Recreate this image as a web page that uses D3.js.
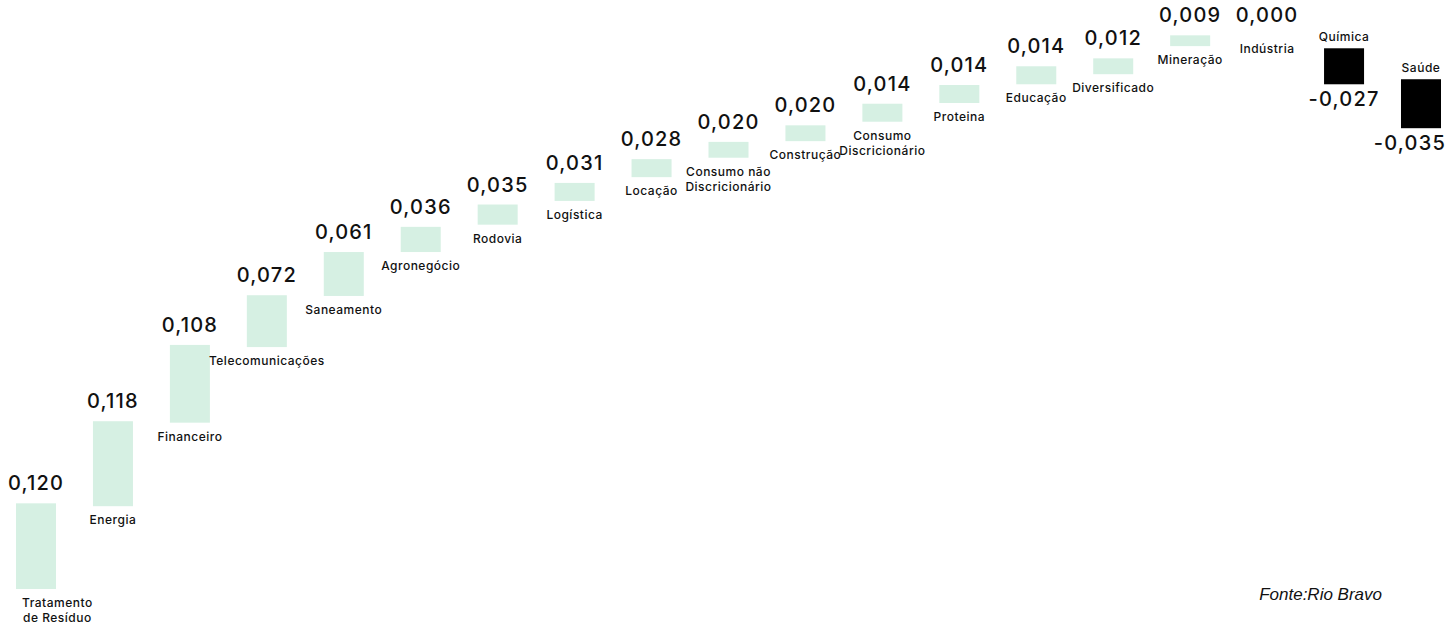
<!DOCTYPE html>
<html lang="pt-BR">
<head>
<meta charset="utf-8">
<script src="https://cdn.jsdelivr.net/npm/d3@7"></script>
<style>
  body { margin: 0; background: #fff; }
  svg { display: block; font-family: Inter, "Noto Sans", sans-serif; }
  .valor { font-size: 20px; font-weight: 500; letter-spacing: 1.2px; fill: #111; }
  .setor { font-size: 12px; font-weight: 500; letter-spacing: 0.5px; fill: #111; }
  .fonte { font-family: "Liberation Sans", Arial, sans-serif; font-style: italic; font-size: 17px; fill: #111; }
</style>
</head>
<body>
<svg id="grafico" width="1447" height="626"></svg>
<script>
/* categorias (\n = quebra de linha no rótulo) */
const categorias = ["Tratamento\nde Resíduo", "Energia", "Financeiro", "Telecomunicações", "Saneamento",
  "Agronegócio", "Rodovia", "Logística", "Locação", "Consumo não\nDiscricionário", "Construção",
  "Consumo\nDiscricionário", "Proteina", "Educação", "Diversificado", "Mineração", "Indústria",
  "Química", "Saúde"]

/* valores escritos nos rótulos */
const rotulos = [0.120, 0.118, 0.108, 0.072, 0.061, 0.036, 0.035, 0.031, 0.028, 0.020, 0.020,
  0.014, 0.014, 0.014, 0.012, 0.009, 0.000, -0.027, -0.035]

/* série invisível (base) e série visível da cascata */
const bases = [0, 0.115, 0.231, 0.336, 0.407, 0.468, 0.506, 0.539, 0.572, 0.599, 0.622,
  0.649, 0.675, 0.701, 0.715, 0.754, 0.769, 0.751, 0.708]
const alturas = [0.119, 0.118, 0.108, 0.072, 0.061, 0.035, 0.028, 0.025, 0.025, 0.022, 0.022,
  0.025, 0.025, 0.025, 0.022, 0.015, 0, -0.050, -0.068]

const fonte = "Fonte:Rio Bravo"

const dados = categorias.map((c, i) => ({
  nome: c, rotulo: rotulos[i],
  topo: Math.max(bases[i], bases[i] + alturas[i]),
  fundo: Math.min(bases[i], bases[i] + alturas[i]),
  negativo: alturas[i] < 0
}))

const W = 1447
const svg = d3.select('#grafico')

/* ESCALAS */
const x = d3.scaleBand()
  .domain(categorias)
  .range([16, 1441])
  .paddingInner(0.48)
  .paddingOuter(0)

const y = d3.scaleLinear()
  .domain([0, 0.8])
  .range([589, 13])

const br = d3.formatLocale({decimal: ",", thousands: ".", grouping: [3], currency: ["R$", ""], minus: "-"})
const fmt = br.format(".3f")
const centro = d => x(d.nome) + x.bandwidth() / 2

/* mantém o texto dentro da área visível */
function ajusta(sel, margem) {
  sel.each(function () {
    const b = this.getBBox()
    let dx = 0
    if (b.x < margem) dx = margem - b.x
    if (b.x + b.width > W - 1) dx = W - 1 - (b.x + b.width)
    if (dx) d3.select(this).attr('transform', `translate(${dx},0)`)
  })
}

/* BARRAS */
svg.selectAll('rect.barra')
  .data(dados.filter(d => d.topo > d.fundo))
  .join('rect')
  .attr('class', 'barra')
  .attr('x', d => x(d.nome))
  .attr('width', x.bandwidth())
  .attr('y', d => y(d.topo))
  .attr('height', d => y(d.fundo) - y(d.topo))
  .attr('fill', d => d.negativo ? '#000' : '#d6f0e3')

/* VALORES */
svg.selectAll('text.valor')
  .data(dados)
  .join('text')
  .attr('class', 'valor')
  .attr('text-anchor', 'middle')
  .attr('x', centro)
  .attr('y', d => d.negativo ? y(d.fundo) + 22 : y(d.topo) - 13)
  .text(d => fmt(d.rotulo))
  .call(ajusta, 8)

/* NOMES DOS SETORES */
const setores = svg.selectAll('text.setor')
  .data(dados)
  .join('text')
  .attr('class', 'setor')
  .attr('text-anchor', 'middle')
  .attr('x', centro)
  .attr('y', d => d.negativo ? y(d.topo) - 7 : y(d.fundo) + 18)

setores.selectAll('tspan')
  .data(d => d.nome.split('\n'))
  .join('tspan')
  .attr('x', function () { return d3.select(this.parentNode).attr('x') })
  .attr('dy', (t, i) => i === 0 ? 0 : 15)
  .text(t => t)

setores.call(ajusta, 22)

/* FONTE */
svg.append('text')
  .attr('class', 'fonte')
  .attr('x', 1382)
  .attr('y', 600)
  .attr('text-anchor', 'end')
  .text(fonte)
</script>
</body>
</html>
